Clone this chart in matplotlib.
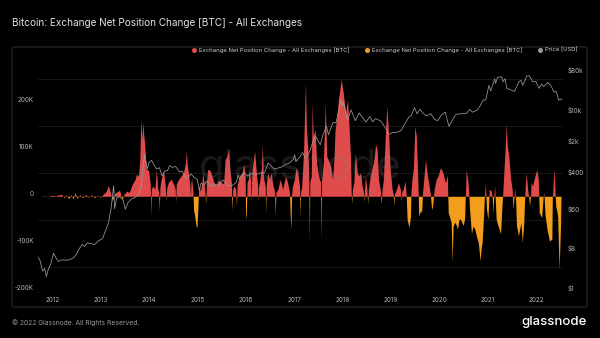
import numpy as np
import pandas as pd
import matplotlib
matplotlib.use("Agg")
import matplotlib.pyplot as plt
import matplotlib.transforms as mtransforms
from matplotlib.lines import Line2D
from matplotlib.patches import FancyBboxPatch

# net position change (30d, thousands of BTC)
net_t = [2011.77, 2011.85, 2011.92, 2012.0, 2012.08, 2012.14, 2012.2, 2012.26, 2012.3, 2012.35,
         2012.4, 2012.44, 2012.48, 2012.52, 2012.58, 2012.64, 2012.7, 2012.76, 2012.82, 2012.88,
         2012.94, 2013.0, 2013.06, 2013.12, 2013.17, 2013.21, 2013.25, 2013.3, 2013.36, 2013.4,
         2013.45, 2013.5, 2013.55, 2013.6, 2013.65, 2013.68, 2013.72, 2013.75, 2013.79, 2013.82,
         2013.84, 2013.86, 2013.88, 2013.9, 2013.92, 2013.95, 2014.0, 2014.035, 2014.045, 2014.055,
         2014.09, 2014.13, 2014.16, 2014.19, 2014.21, 2014.22, 2014.235, 2014.26, 2014.31, 2014.345,
         2014.36, 2014.375, 2014.41, 2014.47, 2014.52, 2014.55, 2014.56, 2014.57, 2014.62, 2014.67,
         2014.72, 2014.76, 2014.78, 2014.8, 2014.83, 2014.855, 2014.865, 2014.875, 2014.89, 2014.915,
         2014.93, 2014.95, 2014.98, 2015.0, 2015.02, 2015.03, 2015.04, 2015.07, 2015.1, 2015.12,
         2015.16, 2015.18, 2015.195, 2015.22, 2015.27, 2015.31, 2015.35, 2015.4, 2015.45, 2015.5,
         2015.55, 2015.58, 2015.62, 2015.65, 2015.68, 2015.71, 2015.725, 2015.74, 2015.76, 2015.8,
         2015.815, 2015.83, 2015.88, 2015.93, 2015.97, 2015.995, 2016.005, 2016.02, 2016.035, 2016.06,
         2016.08, 2016.11, 2016.12, 2016.13, 2016.14, 2016.19, 2016.22, 2016.25, 2016.26, 2016.27,
         2016.29, 2016.33, 2016.35, 2016.37, 2016.41, 2016.42, 2016.43, 2016.46, 2016.5, 2016.53,
         2016.57, 2016.605, 2016.615, 2016.63, 2016.67, 2016.72, 2016.77, 2016.83, 2016.87, 2016.91,
         2016.925, 2016.94, 2016.955, 2016.97, 2017.01, 2017.05, 2017.08, 2017.12, 2017.13, 2017.14,
         2017.16, 2017.2, 2017.24, 2017.26, 2017.29, 2017.31, 2017.32, 2017.33, 2017.36, 2017.38,
         2017.4, 2017.44, 2017.47, 2017.51, 2017.55, 2017.56, 2017.57, 2017.61, 2017.65, 2017.68,
         2017.71, 2017.76, 2017.8, 2017.83, 2017.85, 2017.89, 2017.92, 2017.98, 2018.02, 2018.07,
         2018.11, 2018.14, 2018.17, 2018.185, 2018.195, 2018.21, 2018.24, 2018.27, 2018.31, 2018.34,
         2018.38, 2018.41, 2018.44, 2018.45, 2018.46, 2018.48, 2018.51, 2018.525, 2018.54, 2018.58,
         2018.65, 2018.69, 2018.72, 2018.75, 2018.79, 2018.805, 2018.82, 2018.85, 2018.89, 2018.92,
         2018.96, 2018.99, 2019.03, 2019.055, 2019.065, 2019.08, 2019.13, 2019.16, 2019.2, 2019.215,
         2019.23, 2019.26, 2019.3, 2019.32, 2019.34, 2019.38, 2019.41, 2019.42, 2019.44, 2019.47,
         2019.5, 2019.53, 2019.55, 2019.57, 2019.58, 2019.62, 2019.64, 2019.66, 2019.69, 2019.72,
         2019.76, 2019.79, 2019.82, 2019.84, 2019.86, 2019.88, 2019.9, 2019.94, 2019.98, 2020.03,
         2020.08, 2020.13, 2020.17, 2020.18, 2020.19, 2020.22, 2020.25, 2020.27, 2020.29, 2020.32,
         2020.35, 2020.38, 2020.41, 2020.44, 2020.47, 2020.5, 2020.53, 2020.54, 2020.55, 2020.56,
         2020.6, 2020.62, 2020.63, 2020.67, 2020.7, 2020.74, 2020.77, 2020.81, 2020.85, 2020.87,
         2020.89, 2020.92, 2020.94, 2020.96, 2020.97, 2020.98, 2021.01, 2021.03, 2021.04, 2021.08,
         2021.1, 2021.11, 2021.13, 2021.15, 2021.16, 2021.18, 2021.22, 2021.27, 2021.3, 2021.32,
         2021.36, 2021.39, 2021.41, 2021.44, 2021.48, 2021.51, 2021.52, 2021.53, 2021.55, 2021.56,
         2021.58, 2021.6, 2021.64, 2021.69, 2021.72, 2021.75, 2021.77, 2021.78, 2021.8, 2021.83,
         2021.85, 2021.87, 2021.89, 2021.9, 2021.93, 2021.98, 2022.02, 2022.05, 2022.06, 2022.07,
         2022.12, 2022.15, 2022.16, 2022.17, 2022.19, 2022.23, 2022.28, 2022.33, 2022.34, 2022.35,
         2022.37, 2022.39, 2022.4, 2022.41, 2022.45, 2022.48, 2022.51, 2022.52]
net_k = [0, 1, 0, 2, 1, 3, 4, -3, 3, -5,
         4, -6, 9, -4, 3, -3, 4, -2, 3, -3,
         2, -2, 4, 10, 23, 8, -10, 6, 10, 13,
         -6, 5, 11, 8, 22, 29, 35, 47, 43, 80,
         167, 120, 157, 130, 110, 57, 55, 25, -42, 15,
         22, 15, 57, 15, 8, -31, 20, 36, 54, 20,
         -10, 18, 30, 36, 25, 15, -13, 25, 36, 43,
         50, 70, 96, 64, 43, 20, -6, 30, 36, 10,
         -30, -40, -63, -66, -20, 10, 22, 11, 29, 50,
         15, -17, 30, 57, 55, 43, 29, 25, 35, 29,
         27, 78, 85, 100, 57, 30, -30, 15, 22, 15,
         -20, 25, 43, 50, 68, 40, -49, -35, 30, 36,
         60, 30, -10, 40, 57, 96, 57, 25, -13, 20,
         29, 60, 110, 43, 20, -38, 25, 50, 36, 50,
         22, 10, -42, 8, 15, 36, 15, 43, 29, 10,
         -40, -70, 5, 20, 36, 61, 50, 20, -45, 10,
         18, 92, 241, 142, 100, 40, -98, 30, 43, 198,
         128, 142, 71, 43, 30, -95, 30, 71, 198, 85,
         78, 64, 36, 80, 138, 170, 205, 248, 220, 177,
         205, 149, 85, 10, -17, 15, 29, 92, 50, 43,
         50, 22, 10, -13, 15, 43, 15, -17, 15, 43,
         75, 110, 100, 36, 10, -17, 10, 36, 128, 191,
         128, 57, 15, 5, -20, 5, 18, 29, 15, -10,
         10, 15, 32, 5, -49, -66, -42, 10, 36, 60,
         149, 128, 71, 5, -42, -30, -35, 10, 43, 78,
         43, 25, 5, -20, -28, -5, 15, 36, 43, 61,
         50, 29, 45, 5, -35, -45, -56, -140, -65, -55,
         -60, -70, -50, -48, -55, -62, -45, -5, 20, 57,
         29, -5, -28, -80, -63, -70, -84, -98, -137, -110,
         -98, -40, 5, 29, -5, -28, -49, 0, 15, 11,
         -5, -35, 0, 22, -5, -49, -63, -80, -20, 15,
         92, 153, 106, 85, 36, 15, -5, -28, 0, 18,
         -5, -63, -84, -56, -98, -56, 0, 20, 50, 15,
         0, -20, 0, 29, 22, 43, 57, 36, 0, -35,
         -45, 0, 8, 0, -40, -70, -95, -91, 0, 10,
         57, 29, 0, -20, -42, -155, -60, 0]

# BTC price (USD)
price_dates = ["2011-09-13", "2011-10-01", "2011-10-20", "2011-11-05", "2011-11-18", "2011-12-01",
               "2011-12-20", "2012-01-10", "2012-01-25", "2012-02-15", "2012-03-10", "2012-04-10",
               "2012-05-10", "2012-06-10", "2012-07-01", "2012-07-20", "2012-08-15", "2012-09-01",
               "2012-09-20", "2012-10-15", "2012-11-15", "2012-12-15", "2013-01-15", "2013-02-10",
               "2013-03-01", "2013-03-20", "2013-04-09", "2013-04-16", "2013-05-01", "2013-05-25",
               "2013-06-20", "2013-07-05", "2013-07-25", "2013-08-20", "2013-09-20", "2013-10-15",
               "2013-11-05", "2013-11-18", "2013-11-30", "2013-12-18", "2013-12-31", "2014-01-20",
               "2014-02-10", "2014-02-26", "2014-03-20", "2014-04-10", "2014-04-25", "2014-05-20",
               "2014-06-05", "2014-06-25", "2014-07-20", "2014-08-18", "2014-09-10", "2014-10-05",
               "2014-10-25", "2014-11-12", "2014-12-10", "2014-12-31", "2015-01-14", "2015-01-28",
               "2015-02-20", "2015-03-12", "2015-04-15", "2015-05-15", "2015-06-15", "2015-07-12",
               "2015-08-20", "2015-09-20", "2015-10-20", "2015-11-04", "2015-11-15", "2015-12-15",
               "2016-01-15", "2016-02-20", "2016-03-20", "2016-04-20", "2016-05-20", "2016-06-16",
               "2016-07-05", "2016-08-02", "2016-09-01", "2016-10-01", "2016-10-30", "2016-11-25",
               "2016-12-25", "2017-01-04", "2017-01-12", "2017-02-10", "2017-03-05", "2017-03-25",
               "2017-04-25", "2017-05-25", "2017-06-12", "2017-07-16", "2017-08-05", "2017-09-01",
               "2017-09-15", "2017-10-20", "2017-11-12", "2017-12-01", "2017-12-17", "2017-12-28",
               "2018-01-06", "2018-02-06", "2018-03-05", "2018-04-06", "2018-05-05", "2018-06-25",
               "2018-07-25", "2018-08-14", "2018-09-05", "2018-10-15", "2018-11-20", "2018-12-15",
               "2019-01-10", "2019-02-08", "2019-03-15", "2019-04-05", "2019-05-14", "2019-06-01",
               "2019-06-26", "2019-07-16", "2019-08-06", "2019-09-01", "2019-09-25", "2019-10-26",
               "2019-11-25", "2019-12-18", "2020-01-15", "2020-02-12", "2020-03-12", "2020-04-01",
               "2020-04-29", "2020-05-15", "2020-06-15", "2020-07-25", "2020-08-15", "2020-09-05",
               "2020-10-10", "2020-10-30", "2020-11-25", "2020-12-15", "2021-01-08", "2021-01-22",
               "2021-02-21", "2021-02-28", "2021-03-13", "2021-04-14", "2021-04-25", "2021-05-10",
               "2021-05-23", "2021-06-22", "2021-07-20", "2021-08-22", "2021-09-07", "2021-09-21",
               "2021-10-20", "2021-11-09", "2021-12-04", "2021-12-27", "2022-01-22", "2022-02-10",
               "2022-02-24", "2022-03-29", "2022-04-25", "2022-05-12", "2022-06-01", "2022-06-18",
               "2022-07-05", "2022-07-12"]
price_usd = [5.9, 4.8, 2.8, 3.2, 2.1, 3.0,
             4.0, 7.0, 5.8, 4.6, 5.0, 4.9,
             5.0, 5.6, 6.6, 8.7, 11.0, 10.0,
             12.0, 11.7, 11.0, 13.4, 15, 24,
             34, 70, 230, 70, 120, 130,
             108, 68, 95, 115, 126, 145,
             250, 700, 1120, 540, 750, 850,
             650, 550, 580, 380, 480, 500,
             650, 590, 620, 470, 480, 330,
             360, 420, 350, 315, 180, 260,
             240, 295, 220, 237, 240, 310,
             230, 232, 270, 400, 320, 455,
             380, 440, 410, 445, 445, 740,
             660, 540, 575, 610, 700, 740,
             900, 1130, 800, 1000, 1270, 940,
             1300, 2400, 2900, 1900, 3200, 4900,
             3200, 6000, 5900, 10900, 19300, 14000,
             17100, 6900, 11500, 6600, 9800, 6100,
             8200, 6200, 7300, 6500, 4500, 3200,
             3600, 3600, 3900, 5000, 7900, 8500,
             12900, 9400, 11800, 9600, 8400, 9500,
             7000, 6600, 8800, 10300, 4900, 6300,
             8800, 9300, 9400, 9700, 11800, 10200,
             11300, 13700, 19000, 19300, 40600, 30800,
             57500, 45000, 61000, 63500, 49000, 58000,
             34700, 32500, 29800, 49500, 52700, 40700,
             65900, 67600, 49000, 50600, 35000, 44000,
             38300, 47400, 38000, 28900, 29800, 19000,
             20200, 19300]

left_ticks = [-200, -100, 0, 100, 200]
left_labels = ["-200K", "-100K", "0", "100K", "200K"]
right_ticks = [1, 8, 60, 400, 2000, 10000, 80000]
right_labels = ["$1", "$8", "$60", "$400", "$2k", "$10k", "$80k"]
years = list(range(2012, 2023))

RED = "#e04b4b"
ORANGE = "#f29d1c"
GREY = "#9a9a9a"
TXT = "#b4b4b4"

plt.rcParams["font.family"] = ["Inter", "DejaVu Sans"]

t = np.array(net_t)
v = np.array(net_k, dtype=float)
pd_dates = pd.to_datetime(price_dates)
pt = pd_dates.year + (pd_dates.dayofyear - 1) / 365.25

fig = plt.figure(figsize=(6, 3.38), dpi=100, facecolor="black")
ax = fig.add_axes([38 / 600, 1 - 291 / 338, 525 / 600, 229 / 338])
ax.set_facecolor("black")

ax.fill_between(t, v, 0, where=v >= 0, interpolate=True, color=RED, lw=0, zorder=2)
ax.fill_between(t, v, 0, where=v <= 0, interpolate=True, color=ORANGE, lw=0, zorder=2)

ax.set_xlim(2011.705, 2022.55)
ax.set_ylim(-200, 286)
ax.set_yticks(left_ticks)
ax.set_yticklabels(left_labels)
ax.set_yticks(np.arange(-200, 251, 50), minor=True)
ax.grid(True, which="minor", axis="y", color="#1c1c1c", lw=0.6, zorder=0)
ax.set_xticks(years)
ax.set_xticklabels([str(y) for y in years])
ax.tick_params(axis="both", which="both", length=0, colors=TXT, labelsize=4.6)
ax.tick_params(axis="x", pad=4)
ax.tick_params(axis="y", pad=3)
for s in ax.spines.values():
    s.set_visible(False)

ax2 = ax.twinx()
ax2.plot(pt, price_usd, color=GREY, lw=0.55, zorder=3)
ax2.set_yscale("log")
ax2.set_ylim(1, 10 ** ((291 - 62) / 44.6))
ax2.set_yticks(right_ticks)
ax2.set_yticklabels(right_labels)
ax2.yaxis.set_minor_locator(matplotlib.ticker.NullLocator())
ax2.tick_params(axis="y", length=0, colors=TXT, labelsize=4.6, pad=3)
for s in ax2.spines.values():
    s.set_visible(False)

# labels sit a little above the grid lines
up = mtransforms.ScaledTranslation(0, 3 / 100, fig.dpi_scale_trans)
for lab in ax.get_yticklabels() + ax2.get_yticklabels():
    lab.set_transform(lab.get_transform() + up)

# panel frame
fig.add_artist(FancyBboxPatch((12 / 600, 1 - 307 / 338), 575 / 600, 260 / 338,
                              boxstyle="round,pad=0,rounding_size=0.004",
                              transform=fig.transFigure, fc="none", ec="#2a2a2a", lw=0.8))

fig.text(12 / 600, 1 - 23 / 338, "Bitcoin: Exchange Net Position Change [BTC] - All Exchanges",
         color="#e2e2e2", fontsize=7.2, va="center", ha="left")

# legend
leg = [(194.3, RED, "Exchange Net Position Change - All Exchanges [BTC]"),
       (367.3, ORANGE, "Exchange Net Position Change - All Exchanges [BTC]"),
       (540.3, GREY, "Price [USD]")]
for x, c, lbl in leg:
    fig.add_artist(Line2D([x / 600], [1 - 49.7 / 338], marker="o", ms=2.6, color=c, lw=0,
                          transform=fig.transFigure))
    fig.text((x + 4.5) / 600, 1 - 49.7 / 338, lbl, color="#cfcfcf", fontsize=4.25,
             va="center", ha="left")

# watermark
fig.text(300 / 600, 1 - 168 / 338, "glassnode", color="#808080", alpha=0.2, fontsize=30,
         ha="center", va="center", zorder=10)

fig.text(12 / 600, 1 - 323 / 338, "\u00a9 2022 Glassnode. All Rights Reserved.",
         color="#9a9a9a", fontsize=4.8, va="center", ha="left")
fig.text(587 / 600, 1 - 322 / 338, "glassnode", color="white", fontsize=9.5,
         va="center", ha="right", fontweight="medium")

fig.savefig("out.png", dpi=100, facecolor="black")
